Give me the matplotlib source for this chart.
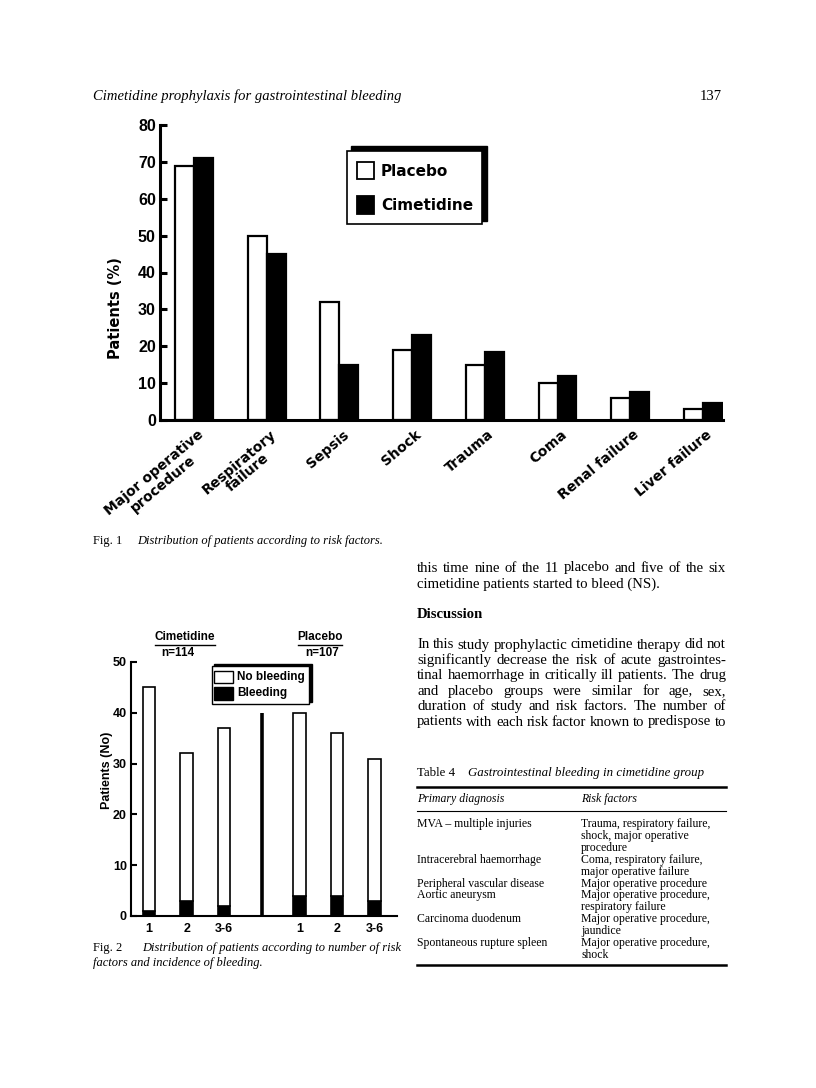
import matplotlib
matplotlib.use("Agg")
import matplotlib.pyplot as plt
from matplotlib.patches import Rectangle
import numpy as np

# Fig. 1 data: risk factors (% of patients)
risk_factors = ["Major operative\nprocedure", "Respiratory\nfailure", "Sepsis", "Shock",
                "Trauma", "Coma", "Renal failure", "Liver failure"]
placebo_pct = [69, 50, 32, 19, 15, 10, 6, 3]
cimetidine_pct = [71, 45, 15, 23, 18.5, 12, 7.5, 4.5]

# Fig. 2 data: number of risk factors, patients and bleeding
n_factor_labels = ["1", "2", "3-6", "1", "2", "3-6"]
cim_total = [45, 32, 37]
cim_bleed = [1, 3, 2]
plc_total = [40, 36, 31]
plc_bleed = [4, 4, 3]

W, H = 816, 1088
SANS1 = "DejaVu Sans"
SANS2 = "Liberation Sans"
SERIF = "Liberation Serif"


def frame(x0, y0, x1, y1):
    # pixel box -> figure fractions
    return [x0 / W, 1 - y1 / H, (x1 - x0) / W, (y1 - y0) / H]


fig = plt.figure(figsize=(W / 100, H / 100), dpi=100)

# ---------------- Fig. 1 ----------------
step1 = 72.7
ax1 = fig.add_axes(frame(160, 125, 723, 420))
x = np.arange(len(risk_factors))
bw = 0.26
ax1.bar(x - bw / 2, placebo_pct, bw, color="white", edgecolor="black", linewidth=1.6, zorder=2)
ax1.bar(x + bw / 2, cimetidine_pct, bw, color="black", edgecolor="black", linewidth=1.6, zorder=2)
ax1.set_xlim(-(194 - 160) / step1, (723 - 194) / step1)
ax1.set_ylim(0, 80)
for s in ["top", "right"]:
    ax1.spines[s].set_visible(False)
for s in ["left", "bottom"]:
    ax1.spines[s].set_linewidth(2.2)
ax1.set_yticks(range(0, 81, 10))
ax1.tick_params(axis="y", direction="in", length=5, width=2.2, pad=3, labelsize=11.5)
ax1.tick_params(axis="x", length=0, labelbottom=False)
for lab in ax1.get_yticklabels():
    lab.set_fontweight("bold")
    lab.set_family(SANS2)
for i, name in enumerate(risk_factors):
    ax1.text(i + 0.04, -2.0, name, rotation=40, rotation_mode="anchor", ha="right", va="top",
             multialignment="center", fontsize=10, fontweight="bold", family=SANS1,
             linespacing=1.0, clip_on=False)

# ---------------- Fig. 2 ----------------
step2 = 37.6
ax2 = fig.add_axes(frame(131, 662, 397, 916))
pos = [0, 1, 2, 4, 5, 6]
totals = cim_total + plc_total
bleeds = cim_bleed + plc_bleed
no_bleed = [t - b for t, b in zip(totals, bleeds)]
bw2 = 0.33
ax2.bar(pos, bleeds, bw2, color="black", edgecolor="black", linewidth=1.2, zorder=2)
ax2.bar(pos, no_bleed, bw2, bottom=bleeds, color="white", edgecolor="black", linewidth=1.2, zorder=2)
ax2.plot([3, 3], [0, 40], color="black", linewidth=2.6, solid_capstyle="butt")
ax2.set_xlim(-(149 - 131) / step2, (397 - 149) / step2)
ax2.set_ylim(0, 50)
for s in ["top", "right"]:
    ax2.spines[s].set_visible(False)
for s in ["left", "bottom"]:
    ax2.spines[s].set_linewidth(1.5)
ax2.set_yticks(range(0, 51, 10))
ax2.set_xticks(pos)
ax2.set_xticklabels(n_factor_labels)
ax2.tick_params(axis="y", direction="in", length=4, width=1.5, pad=3, labelsize=9)
ax2.tick_params(axis="x", length=0, pad=5, labelsize=9)
for lab in ax2.get_yticklabels() + ax2.get_xticklabels():
    lab.set_fontweight("bold")
    lab.set_family(SANS2)

# ---------------- page layer (pixel coordinates) ----------------
page = fig.add_axes([0, 0, 1, 1])
page.set_xlim(0, W)
page.set_ylim(H, 0)
page.axis("off")
page.patch.set_alpha(0)

# axis titles
page.text(116, 308, "Patients (%)", rotation=90, fontsize=10.5, fontweight="bold", family=SANS1,
          ha="center", va="center")
page.text(107, 770, "Patients (No)", rotation=90, fontsize=9, fontweight="bold", family=SANS2,
          ha="center", va="center")

# Fig. 1 legend with offset shadow
page.add_patch(Rectangle((351, 146), 136, 75, facecolor="black", edgecolor="black"))
page.add_patch(Rectangle((347, 151), 135, 73, facecolor="white", edgecolor="black", linewidth=1.2))
page.add_patch(Rectangle((357, 162), 17, 17, facecolor="white", edgecolor="black", linewidth=1.3))
page.add_patch(Rectangle((357, 196), 17, 18, facecolor="black", edgecolor="black", linewidth=1.3))
page.text(381, 171, "Placebo", fontsize=11, fontweight="bold", family=SANS1, va="center")
page.text(381, 206, "Cimetidine", fontsize=11, fontweight="bold", family=SANS1, va="center")

# Fig. 2 legend
page.add_patch(Rectangle((214, 664), 98, 38, facecolor="black", edgecolor="black"))
page.add_patch(Rectangle((212, 666), 97, 38, facecolor="white", edgecolor="black", linewidth=1.0))
page.add_patch(Rectangle((214, 671), 19, 12, facecolor="white", edgecolor="black", linewidth=1.0))
page.add_patch(Rectangle((214, 687), 19, 13, facecolor="black", edgecolor="black", linewidth=1.0))
page.text(237, 677, "No bleeding", fontsize=8.5, fontweight="bold", family=SANS2, va="center")
page.text(237, 693, "Bleeding", fontsize=8.5, fontweight="bold", family=SANS2, va="center")

# Fig. 2 group headings
page.text(185, 637, "Cimetidine", fontsize=8.5, fontweight="bold", family=SANS2, ha="center", va="center")
page.plot([155, 215], [645, 645], color="black", linewidth=1.0)
page.text(178, 653, "n=114", fontsize=8.5, fontweight="bold", family=SANS2, ha="center", va="center")
page.text(320, 637, "Placebo", fontsize=8.5, fontweight="bold", family=SANS2, ha="center", va="center")
page.plot([298, 342], [645, 645], color="black", linewidth=1.0)
page.text(322, 653, "n=107", fontsize=8.5, fontweight="bold", family=SANS2, ha="center", va="center")

# running head
page.text(93, 96, "Cimetidine prophylaxis for gastrointestinal bleeding", fontsize=10.5,
          style="italic", family=SERIF, va="center")
page.text(722, 96, "137", fontsize=10.5, family=SERIF, va="center", ha="right")

# captions
page.text(93, 541, "Fig. 1", fontsize=9, family=SERIF, va="center")
page.text(137, 541, "Distribution of patients according to risk factors.", fontsize=9,
          style="italic", family=SERIF, va="center")
page.text(93, 948, "Fig. 2", fontsize=9, family=SERIF, va="center")
page.text(142, 948, "Distribution of patients according to number of risk", fontsize=9,
          style="italic", family=SERIF, va="center")
page.text(93, 963, "factors and incidence of bleeding.", fontsize=9,
          style="italic", family=SERIF, va="center")

# body text of right column, justified lines
renderer = fig.canvas.get_renderer()
BODY = 10.6


def justify(line, y, x0=417, x1=726, size=BODY):
    words = line.split()
    arts = [page.text(0, y, w, fontsize=size, family=SERIF, va="center") for w in words]
    widths = [a.get_window_extent(renderer).width for a in arts]
    gap = max((x1 - x0 - sum(widths)) / max(len(words) - 1, 1), 2.5)
    xc = x0
    for a, wdt in zip(arts, widths):
        a.set_x(xc)
        xc += wdt + gap


justify("this time nine of the 11 placebo and five of the six", 568)
page.text(417, 584, "cimetidine patients started to bleed (NS).", fontsize=BODY, family=SERIF, va="center")
page.text(417, 614, "Discussion", fontsize=BODY, fontweight="bold", family=SERIF, va="center")
body = ["In this study prophylactic cimetidine therapy did not",
        "significantly decrease the risk of acute gastrointes-",
        "tinal haemorrhage in critically ill patients. The drug",
        "and placebo groups were similar for age, sex,",
        "duration of study and risk factors. The number of",
        "patients with each risk factor known to predispose to"]
for k, line in enumerate(body):
    justify(line, 645 + k * 15.4)

# Table 4
page.text(417, 773, "Table 4", fontsize=9.3, family=SERIF, va="center")
page.text(468, 773, "Gastrointestinal bleeding in cimetidine group", fontsize=9.3,
          style="italic", family=SERIF, va="center")
page.plot([417, 726], [787, 787], color="black", linewidth=1.8)
page.text(417, 799, "Primary diagnosis", fontsize=8.5, style="italic", family=SERIF, va="center")
page.text(581, 799, "Risk factors", fontsize=8.5, style="italic", family=SERIF, va="center")
page.plot([417, 726], [811, 811], color="black", linewidth=0.8)

diagnoses = ["MVA \u2013 multiple injuries", "Intracerebral haemorrhage", "Peripheral vascular disease",
             "Aortic aneurysm", "Carcinoma duodenum", "Spontaneous rupture spleen"]
risk_text = ["Trauma, respiratory failure,\nshock, major operative\nprocedure",
             "Coma, respiratory failure,\nmajor operative failure",
             "Major operative procedure",
             "Major operative procedure,\nrespiratory failure",
             "Major operative procedure,\njaundice",
             "Major operative procedure,\nshock"]
row_y = [823, 859, 883, 894, 918, 942]
for d, r, yy in zip(diagnoses, risk_text, row_y):
    page.text(417, yy - 5, d, fontsize=8.5, family=SERIF, va="top", linespacing=1.0)
    page.text(581, yy - 5, r, fontsize=8.5, family=SERIF, va="top", linespacing=1.0)
page.plot([417, 726], [965, 965], color="black", linewidth=1.8)

fig.savefig("out.png", dpi=100)
